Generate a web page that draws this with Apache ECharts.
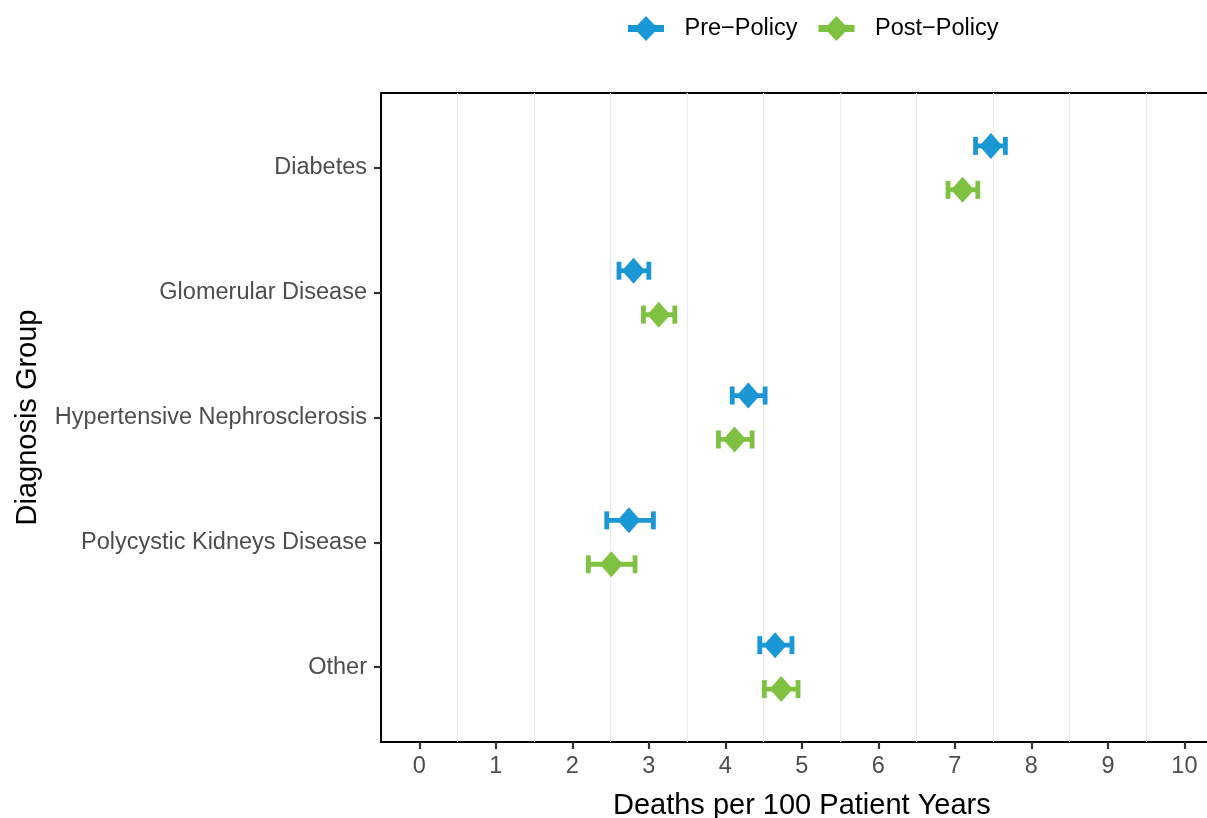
<!DOCTYPE html>
<html>
<head>
<meta charset="utf-8">
<script src="https://cdn.jsdelivr.net/npm/echarts@6.0.0/dist/echarts.min.js"></script>
<style>
html,body{margin:0;padding:0;background:#fff;}
#chart{width:1207px;height:818px;}
</style>
</head>
<body>
<div id="chart"></div>
<script>
// ---- data ----
const categories = ['Diabetes', 'Glomerular Disease', 'Hypertensive Nephrosclerosis', 'Polycystic Kidneys Disease', 'Other'];
const seriesNames = ['Pre\u2212Policy', 'Post\u2212Policy'];
const preMean  = [7.47, 2.80, 4.30, 2.74, 4.65];
const preLow   = [7.27, 2.61, 4.09, 2.45, 4.45];
const preHigh  = [7.66, 3.00, 4.52, 3.06, 4.87];
const postMean = [7.10, 3.13, 4.12, 2.51, 4.73];
const postLow  = [6.91, 2.93, 3.91, 2.21, 4.51];
const postHigh = [7.30, 3.34, 4.35, 2.82, 4.95];
const xTicks = [0, 1, 2, 3, 4, 5, 6, 7, 8, 9, 10];
const xGridLines = [0.5, 1.5, 2.5, 3.5, 4.5, 5.5, 6.5, 7.5, 8.5, 9.5];
const yTicks = [0, 1, 2, 3, 4];

// ---- styles ----
const FONT = 'Liberation Sans, Arial, Helvetica, sans-serif';
const colors = ['#1a98d5', '#7fc241'];
const dodge = 0.176;

function pts(mean, off) { return mean.map((m, i) => [m, i + off]); }
function bars(lo, hi, off) { return lo.map((l, i) => [l, hi[i], i + off]); }

function errRender(color) {
  return function (params, api) {
    const y = api.value(2);
    const p1 = api.coord([api.value(0), y]);
    const p2 = api.coord([api.value(1), y]);
    const capH = 9;
    const st = { stroke: color, lineWidth: 4.8 };
    return {
      type: 'group',
      children: [
        { type: 'line', shape: { x1: p1[0], y1: p1[1], x2: p2[0], y2: p2[1] }, style: st },
        { type: 'line', shape: { x1: p1[0], y1: p1[1] - capH, x2: p1[0], y2: p1[1] + capH }, style: st },
        { type: 'line', shape: { x1: p2[0], y1: p2[1] - capH, x2: p2[0], y2: p2[1] + capH }, style: st }
      ]
    };
  };
}

const legendIcon = 'path://M0,9 L9.4,9 L18,0 L26.6,9 L36,9 L36,16 L26.6,16 L18,25 L9.4,16 L0,16 Z';

const chart = echarts.init(document.getElementById('chart'), null, { renderer: 'canvas' });
chart.setOption({
  animation: false,
  backgroundColor: '#ffffff',
  textStyle: { fontFamily: FONT },
  legend: {
    left: 623, top: 11,
    itemWidth: 37, itemHeight: 25, itemGap: 21,
    textStyle: { fontSize: 23.5, color: '#000', fontFamily: FONT, padding: [0, 0, 0, 15] },
    data: [
      { name: seriesNames[0], icon: legendIcon, itemStyle: { color: colors[0] } },
      { name: seriesNames[1], icon: legendIcon, itemStyle: { color: colors[1] } }
    ]
  },
  grid: {
    left: 381, top: 93, width: 841.7, height: 649,
    outerBoundsMode: 'none', containLabel: false,
    show: true, borderColor: '#000', borderWidth: 2, backgroundColor: '#fff'
  },
  xAxis: [
    {
      type: 'value', min: -0.5, max: 10.5,
      name: 'Deaths per 100 Patient Years', nameLocation: 'middle', nameGap: 49,
      nameTextStyle: { fontSize: 29, color: '#000', fontFamily: FONT },
      axisLine: { show: false, onZero: false },
      axisTick: { show: true, length: 7, customValues: xTicks, lineStyle: { color: '#333', width: 2.2 } },
      axisLabel: { customValues: xTicks, fontSize: 23.5, color: '#4d4d4d', margin: 13, fontFamily: FONT },
      splitLine: { show: false }
    },
    {
      type: 'value', min: -0.5, max: 10.5, position: 'bottom',
      axisLine: { show: false, onZero: false },
      axisTick: { show: false, customValues: xGridLines },
      axisLabel: { show: false, customValues: xGridLines },
      splitLine: { show: true, lineStyle: { color: '#ebebeb', width: 1.2 } }
    }
  ],
  yAxis: {
    type: 'value', min: -0.6, max: 4.6, inverse: true,
    name: 'Diagnosis Group', nameLocation: 'middle', nameGap: 339, nameRotate: 90,
    nameTextStyle: { fontSize: 29, color: '#000', fontFamily: FONT },
    axisLine: { show: false, onZero: false },
    axisTick: { show: true, length: 7, customValues: yTicks, lineStyle: { color: '#333', width: 2.2 } },
    axisLabel: {
      customValues: yTicks, fontSize: 23.5, color: '#4d4d4d', margin: 14, fontFamily: FONT,
      padding: [4, 0, 0, 0],
      formatter: v => categories[Math.round(v)] || ''
    },
    splitLine: { show: false }
  },
  series: [
    {
      name: seriesNames[0], type: 'custom', xAxisIndex: 0, renderItem: errRender(colors[0]),
      encode: { x: [0, 1], y: 2 }, data: bars(preLow, preHigh, -dodge), z: 3
    },
    {
      name: seriesNames[1], type: 'custom', xAxisIndex: 0, renderItem: errRender(colors[1]),
      encode: { x: [0, 1], y: 2 }, data: bars(postLow, postHigh, dodge), z: 3
    },
    {
      name: seriesNames[0], type: 'scatter', xAxisIndex: 0, symbol: 'diamond', symbolSize: [23, 26],
      itemStyle: { color: colors[0], opacity: 1 }, data: pts(preMean, -dodge), z: 4
    },
    {
      name: seriesNames[1], type: 'scatter', xAxisIndex: 0, symbol: 'diamond', symbolSize: [23, 26],
      itemStyle: { color: colors[1], opacity: 1 }, data: pts(postMean, dodge), z: 4
    }
  ]
});
</script>
</body>
</html>
